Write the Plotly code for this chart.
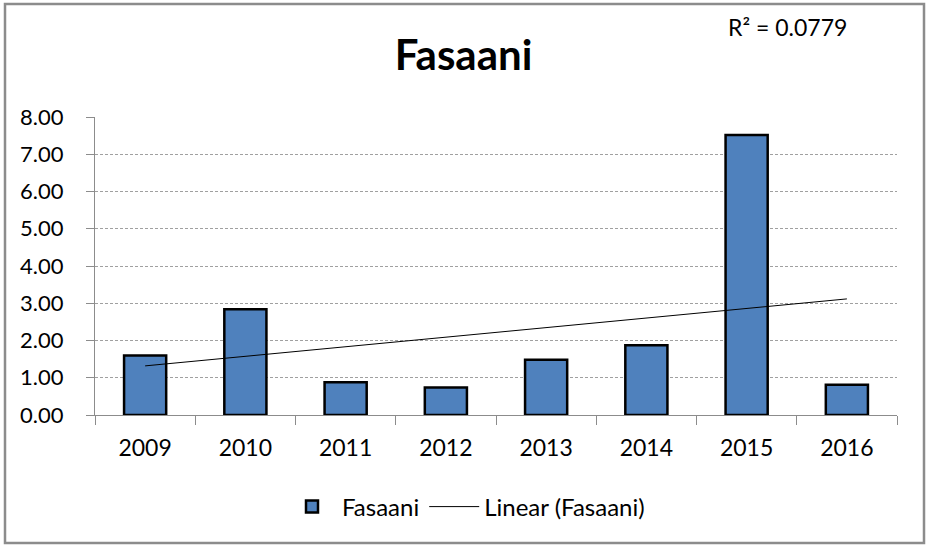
import numpy as np
import plotly.graph_objects as go

years = ["2009", "2010", "2011", "2012", "2013", "2014", "2015", "2016"]
values = [1.60, 2.84, 0.88, 0.74, 1.48, 1.87, 7.52, 0.81]
y_ticks = [0, 1, 2, 3, 4, 5, 6, 7, 8]
series_name = "Fasaani"
trend_name = "Linear (Fasaani)"
r2_label = "R² = 0.0779"

FONT = "Lato, 'Open Sans', sans-serif"

# linear trend through the data
xi = np.arange(1, len(values) + 1)
slope, intercept = np.polyfit(xi, values, 1)
trend = slope * xi + intercept

fig = go.Figure()
fig.add_trace(go.Bar(
    x=years, y=values, name=series_name,
    marker=dict(color="#4f81bd", line=dict(color="#000000", width=2.5)),
    width=0.42,
))
fig.add_trace(go.Scatter(
    x=years, y=trend, name=trend_name, mode="lines",
    line=dict(color="#000000", width=1),
))

W, H = 927, 546
L, R, T, B = 95, 30, 117, 131
pw, ph = W - L - R, H - T - B

fig.update_layout(
    width=W, height=H,
    margin=dict(l=L, r=R, t=T, b=B),
    paper_bgcolor="white", plot_bgcolor="white",
    font=dict(family=FONT, size=22, color="#000000"),
    title=dict(text="<b>Fasaani</b>", x=0.5, xanchor="center",
               y=1 - 55 / H, yanchor="middle", yref="container",
               font=dict(size=42, family=FONT, color="#000000")),
    showlegend=True,
    legend=dict(orientation="h", x=(466 - L) / pw, xanchor="center",
                y=(0 - (507 - (T + ph))) / ph, yanchor="middle",
                font=dict(size=24, family=FONT), bgcolor="rgba(0,0,0,0)",
                itemwidth=50, traceorder="normal"),
    bargap=0.58,
)
fig.update_xaxes(
    type="category", showline=True, linecolor="#8c8c8c", linewidth=1,
    ticks="outside", tickson="boundaries", ticklen=9, tickcolor="#8c8c8c",
    showgrid=False, tickfont=dict(size=23, family=FONT),
    ticklabelstandoff=12,
)
fig.update_yaxes(
    range=[0, 8], tickvals=y_ticks, ticktext=[f"{v:.2f}" for v in y_ticks],
    showline=True, linecolor="#8c8c8c", linewidth=1,
    ticks="outside", ticklen=8, tickcolor="#8c8c8c",
    showgrid=True, gridcolor="#a0a0a0", gridwidth=1, griddash="3px,2px",
    zeroline=False, tickfont=dict(size=22, family=FONT),
    ticklabelstandoff=18,
)

fig.add_annotation(text=r2_label, xref="paper", yref="paper",
                   x=(787 - L) / pw, y=(T + ph - 27) / ph,
                   xanchor="center", yanchor="middle", showarrow=False,
                   font=dict(size=23, family=FONT, color="#000000"))

# outer chart border
fig.add_shape(type="rect", xref="paper", yref="paper",
              x0=(5 - L) / pw, x1=(924 - L) / pw,
              y0=(T + ph - 543) / ph, y1=(T + ph - 4) / ph,
              line=dict(color="#8c8c8c", width=2.5), fillcolor="rgba(0,0,0,0)",
              layer="above")

fig.write_html("out.html", config={"displayModeBar": False},
               post_script="document.body.style.margin='0px';")
